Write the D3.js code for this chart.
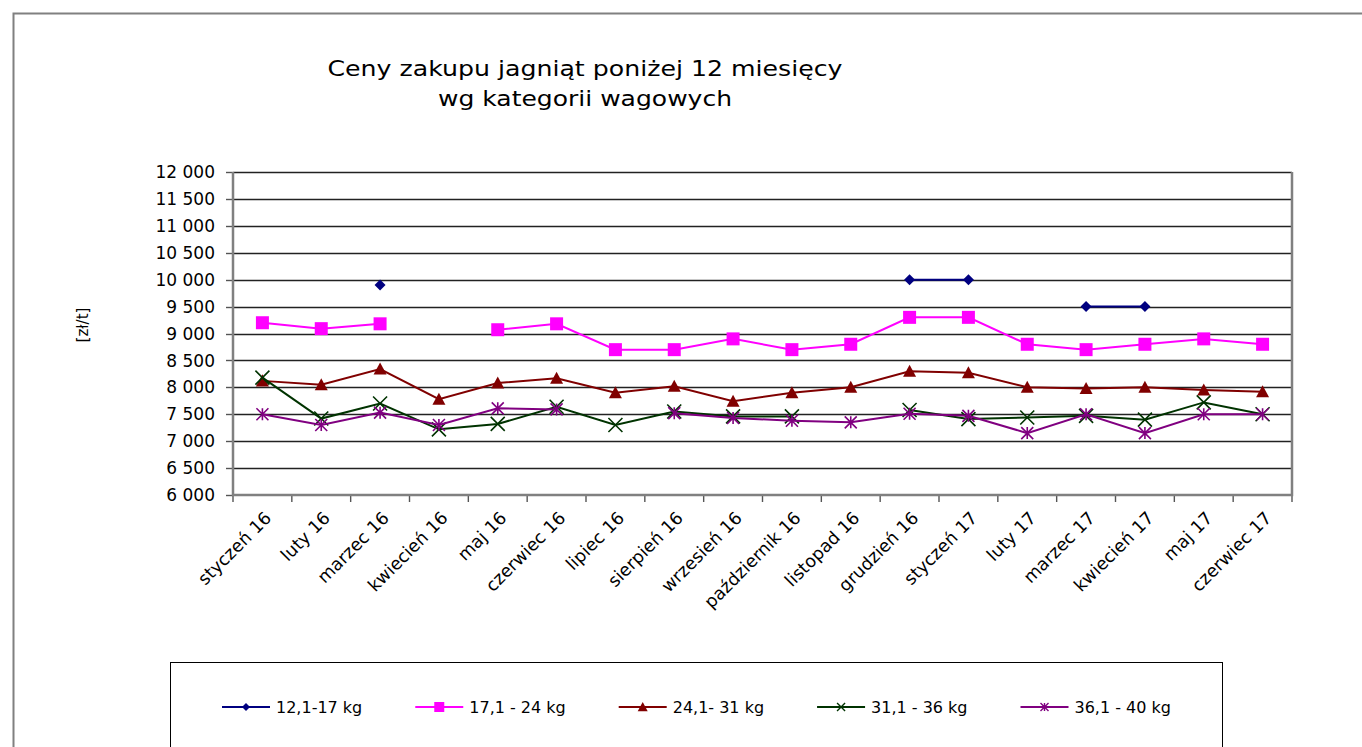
<!DOCTYPE html>
<html>
<head>
<meta charset="utf-8">
<script src="https://cdn.jsdelivr.net/npm/d3@7"></script>
<style>
  body { margin: 0; background: #fff; }
  text { font-family: "DejaVu Sans", sans-serif; fill: #000; }
</style>
</head>
<body>
<div id="chart"></div>
<script>
// Chart data
const months = ["styczeń 16", "luty 16", "marzec 16", "kwiecień 16", "maj 16", "czerwiec 16",
  "lipiec 16", "sierpień 16", "wrzesień 16", "październik 16", "listopad 16", "grudzień 16",
  "styczeń 17", "luty 17", "marzec 17", "kwiecień 17", "maj 17", "czerwiec 17"];

const seriesNames = ["12,1-17 kg", "17,1 - 24 kg", "24,1- 31 kg", "31,1 - 36 kg", "36,1 - 40 kg"];

const w12_17 = [null, null, 9900, null, null, null, null, null, null, null, null, 10000,
  10000, null, 9500, 9500, null, null];
const w17_24 = [9200, 9090, 9180, null, 9070, 9180, 8700, 8700, 8900, 8700, 8800, 9300,
  9300, 8800, 8700, 8800, 8900, 8800];
const w24_31 = [8120, 8050, 8340, 7780, 8080, 8170, 7900, 8020, 7740, 7900, 8000, 8300,
  8270, 8000, 7980, 8000, 7950, 7920];
const w31_36 = [8180, 7420, 7700, 7220, 7320, 7640, 7300, 7550, 7460, 7460, null, 7580,
  7410, 7440, 7470, 7400, 7720, 7500];
const w36_40 = [7500, 7300, 7530, 7300, 7610, 7590, null, 7520, 7430, 7380, 7350, 7510,
  7470, 7150, 7500, 7150, 7500, 7500];

const yTicks = [6000, 6500, 7000, 7500, 8000, 8500, 9000, 9500, 10000, 10500, 11000, 11500, 12000];

const seriesValues = [w12_17, w17_24, w24_31, w31_36, w36_40];
const colors = ["#000080", "#ff00ff", "#800000", "#003300", "#800080"];
const markers = ["diamond", "square", "triangle", "x", "star"];

const W = 1362, H = 747;
const plot = {left: 233, right: 1292, top: 172, bottom: 495};

const svg = d3.select("#chart").append("svg")
    .attr("width", W)
    .attr("height", H);

// outer chart border
svg.append("path")
    .attr("d", `M13.5,${H} L13.5,13.5 L${W},13.5`)
    .attr("fill", "none")
    .attr("stroke", "#808080")
    .attr("stroke-width", 2);

// Title
const titleLines = [["Ceny zakupu jagniąt poniżej 12 miesięcy", 76, 515],
                    ["wg kategorii wagowych", 106, 294]];
titleLines.forEach(function(t) {
    svg.append("text")
        .attr("x", 585)
        .attr("y", t[1])
        .attr("text-anchor", "middle")
        .attr("textLength", t[2])
        .attr("lengthAdjust", "spacingAndGlyphs")
        .style("font-family", "'Comic Sans MS', 'DejaVu Sans', sans-serif")
        .style("font-size", "22px")
        .text(t[0]);
});

// Scales
const x = d3.scaleBand()
    .domain(months)
    .range([plot.left, plot.right])
    .padding(0);
const cx = m => x(m) + x.bandwidth() / 2;

const y = d3.scaleLinear()
    .domain([6000, 12000])
    .range([plot.bottom, plot.top]);

const fmt = n => d3.format(",")(n).replace(/,/g, " ");

// gridlines
svg.append("g").selectAll("line")
    .data(yTicks.filter(d => d > 6000))
    .join("line")
        .attr("x1", plot.left)
        .attr("x2", plot.right)
        .attr("y1", d => Math.round(y(d)) + 0.5)
        .attr("y2", d => Math.round(y(d)) + 0.5)
        .attr("stroke", "#222")
        .attr("stroke-width", 1.4);

// y axis ticks and labels
svg.append("g").selectAll("line")
    .data(yTicks)
    .join("line")
        .attr("x1", plot.left - 7)
        .attr("x2", plot.left)
        .attr("y1", d => Math.round(y(d)) + 0.5)
        .attr("y2", d => Math.round(y(d)) + 0.5)
        .attr("stroke", "#555")
        .attr("stroke-width", 1.4);

svg.append("g").selectAll("text")
    .data(yTicks)
    .join("text")
        .attr("x", 215)
        .attr("y", d => y(d))
        .attr("dy", "0.36em")
        .attr("text-anchor", "end")
        .style("font-size", "17px")
        .text(d => fmt(d));

// y axis label
svg.append("text")
    .attr("transform", "translate(88,325) rotate(-90)")
    .attr("text-anchor", "middle")
    .style("font-size", "15px")
    .text("[zł/t]");

// x ticks between categories
const bounds = months.map(m => x(m)).concat([plot.right]);
svg.append("g").selectAll("line")
    .data(bounds)
    .join("line")
        .attr("x1", d => d)
        .attr("x2", d => d)
        .attr("y1", plot.bottom)
        .attr("y2", plot.bottom + 7)
        .attr("stroke", "#555")
        .attr("stroke-width", 1.4);

// plot frame: left axis, bottom axis, right border
svg.append("path")
    .attr("d", `M${plot.left},${plot.top} L${plot.left},${plot.bottom} L${plot.right},${plot.bottom} L${plot.right},${plot.top}`)
    .attr("fill", "none")
    .attr("stroke", "#808080")
    .attr("stroke-width", 2.5);

// x labels
svg.append("g").selectAll("text")
    .data(months)
    .join("text")
        .attr("transform", d => `translate(${cx(d) + 10},519) rotate(-45)`)
        .attr("text-anchor", "end")
        .style("font-size", "17.5px")
        .text(d => d);

// marker shapes
function markerPath(type, s) {
    const h = s / 2;
    if (type === "diamond") return `M0,${-h}L${h},0L0,${h}L${-h},0Z`;
    if (type === "square") return `M${-h},${-h}H${h}V${h}H${-h}Z`;
    if (type === "triangle") return `M0,${-h}L${h},${h * 0.85}L${-h},${h * 0.85}Z`;
    if (type === "x") return `M${-h},${-h}L${h},${h}M${-h},${h}L${h},${-h}`;
    return `M${-h},${-h}L${h},${h}M${-h},${h}L${h},${-h}M0,${-h}V${h}`;
}
const markerSize = {diamond: 11, square: 13, triangle: 13, x: 14, star: 12};
const legendSize = {diamond: 8, square: 10, triangle: 10, x: 8, star: 8};

const line = d3.line()
    .defined(d => d.v != null)
    .x(d => cx(d.m))
    .y(d => y(d.v));

seriesValues.forEach(function(vals, i) {
    const pts = months.map((m, j) => ({m: m, v: vals[j]}));
    const g = svg.append("g");
    g.append("path")
        .datum(pts)
        .attr("fill", "none")
        .attr("stroke", colors[i])
        .attr("stroke-width", 2)
        .attr("d", line);
    const filled = markers[i] === "diamond" || markers[i] === "square" || markers[i] === "triangle";
    g.selectAll("path.mk")
        .data(pts.filter(d => d.v != null))
        .join("path")
            .attr("class", "mk")
            .attr("transform", d => `translate(${cx(d.m)},${y(d.v)})`)
            .attr("d", markerPath(markers[i], markerSize[markers[i]]))
            .attr("fill", filled ? colors[i] : "none")
            .attr("stroke", colors[i])
            .attr("stroke-width", filled ? 0 : 1.6);
});

// Legend
svg.append("rect")
    .attr("x", 170.5)
    .attr("y", 662.5)
    .attr("width", 1052)
    .attr("height", 100)
    .attr("fill", "none")
    .attr("stroke", "#000")
    .attr("stroke-width", 1);

let lx = 222;
seriesNames.forEach(function(name, i) {
    const g = svg.append("g");
    g.append("line")
        .attr("x1", lx).attr("x2", lx + 48)
        .attr("y1", 707).attr("y2", 707)
        .attr("stroke", colors[i])
        .attr("stroke-width", 2);
    const filled = markers[i] === "diamond" || markers[i] === "square" || markers[i] === "triangle";
    g.append("path")
        .attr("transform", `translate(${lx + 24},707)`)
        .attr("d", markerPath(markers[i], legendSize[markers[i]]))
        .attr("fill", filled ? colors[i] : "none")
        .attr("stroke", colors[i])
        .attr("stroke-width", filled ? 0 : 1.4);
    const t = g.append("text")
        .attr("x", lx + 54)
        .attr("y", 707)
        .attr("dy", "0.36em")
        .style("font-size", "16px")
        .text(name);
    lx = lx + 54 + t.node().getComputedTextLength() + 53;
});
</script>
</body>
</html>
